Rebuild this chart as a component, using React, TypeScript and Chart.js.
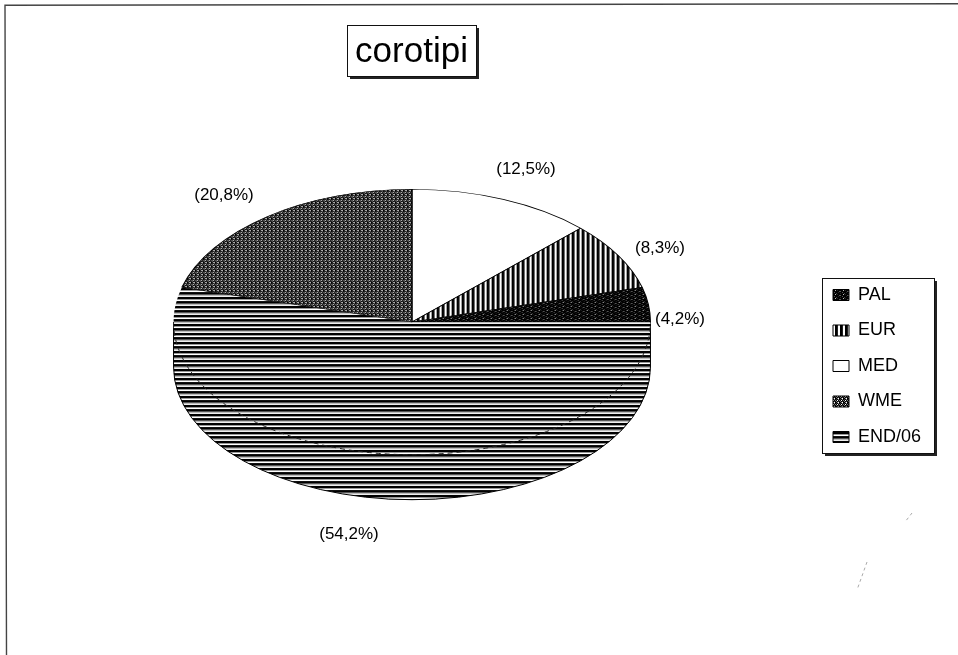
import React, { useEffect, useRef } from "react";
import { Chart, registerables } from "chart.js";

Chart.register(...registerables);

const titleText = "corotipi";
const sliceNames = ["MED", "EUR", "PAL", "END/06", "WME"];
const sliceValues = [12.5, 8.3, 4.2, 54.2, 20.8];
const legendOrder = ["PAL", "EUR", "MED", "WME", "END/06"];

const FONT = '"Liberation Sans", Arial, sans-serif';
const W = 958;
const H = 655;

// pie face geometry on the page
const FACE = { left: 173, right: 651, top: 189, bottom: 455 };
const DEPTH = 45;
const STRETCH = (FACE.right - FACE.left) / (FACE.bottom - FACE.top);
const LABEL_CENTERS: Record<string, [number, number]> = {
  MED: [526, 169],
  EUR: [660, 248],
  PAL: [680, 319],
  "END/06": [349, 534],
  WME: [224, 195],
};

// grey-level tiles (0 = black, f = white) for the scanned hatches
const TILES: Record<string, string[]> = {
  MED: ["f"],
  EUR: ["002ff002ff"],
  PAL: ["00500020", "20004000", "000b0200", "50000005"],
  "END/06": ["0", "0", "9", "f", "1", "0", "5", "b", "e"],
  WME: ["0f07", "7030", "07f0", "3070"],
};

function makePattern(tile: string[], stretch: number): CanvasPattern {
  const c = document.createElement("canvas");
  c.width = tile[0].length;
  c.height = tile.length;
  const x = c.getContext("2d")!;
  tile.forEach((row, j) => {
    [...row].forEach((ch, i) => {
      const v = parseInt(ch, 16) * 17;
      x.fillStyle = `rgb(${v},${v},${v})`;
      x.fillRect(i, j, 1, 1);
    });
  });
  const p = x.createPattern(c, "repeat")!;
  p.setTransform(new DOMMatrix().scale(stretch, 1));
  return p;
}

const percentText = (v: number) => `(${v.toFixed(1).replace(".", ",")}%)`;

function boxWithShadow(
  ctx: CanvasRenderingContext2D,
  x: number,
  y: number,
  w: number,
  h: number
) {
  ctx.fillStyle = "#222";
  ctx.fillRect(x + 3, y + 3, w, h);
  ctx.fillStyle = "#fff";
  ctx.fillRect(x, y, w, h);
  ctx.strokeStyle = "#111";
  ctx.lineWidth = 1;
  ctx.strokeRect(x + 0.5, y + 0.5, w, h);
}

const pagePlugin = {
  id: "pagePlugin",
  afterLayout(chart: any) {
    chart.chartArea = {
      left: FACE.left,
      right: FACE.right,
      top: FACE.top,
      bottom: FACE.bottom,
      width: FACE.right - FACE.left,
      height: FACE.bottom - FACE.top,
    };
  },
  beforeDraw(chart: any) {
    const { ctx } = chart;
    ctx.save();
    ctx.fillStyle = "#fff";
    ctx.fillRect(0, 0, W, H);
    // scanned page frame
    ctx.strokeStyle = "#444";
    ctx.lineWidth = 1.4;
    ctx.beginPath();
    ctx.moveTo(W, 3.8);
    ctx.lineTo(5, 5.2);
    ctx.lineTo(6.5, H);
    ctx.stroke();
    // scratches
    ctx.strokeStyle = "#aaa";
    ctx.lineWidth = 1;
    ctx.setLineDash([3, 3]);
    ctx.beginPath();
    ctx.moveTo(912, 513);
    ctx.lineTo(905, 522);
    ctx.moveTo(867, 562);
    ctx.lineTo(857, 590);
    ctx.stroke();
    ctx.setLineDash([]);
    boxWithShadow(ctx, 347, 25, 129, 51);
    boxWithShadow(ctx, 822, 278, 112, 175);
    ctx.restore();

    const t = chart.titleBlock;
    t.left = 347;
    t.right = 476;
    t.top = 31;
    t.bottom = 74;
    const l = chart.legend;
    const lw = l.right - l.left;
    const lh = l.bottom - l.top;
    l.left = 815.5;
    l.right = l.left + lw;
    l.top = 268.5;
    l.bottom = l.top + lh;
  },
  beforeDatasetsDraw(chart: any) {
    const { ctx } = chart;
    const meta = chart.getDatasetMeta(0);
    const arc = meta.data[sliceNames.indexOf("END/06")];
    const { x, y, outerRadius: r } = arc.getProps(["x", "y", "outerRadius"], true);
    const rx = r * STRETCH;
    ctx.save();
    ctx.translate(x, y);
    ctx.scale(STRETCH, 1);
    ctx.translate(-x, -y);
    ctx.beginPath();
    ctx.moveTo(x - r, y);
    ctx.lineTo(x - r, y + DEPTH);
    ctx.arc(x, y + DEPTH, r, Math.PI, 0, true);
    ctx.lineTo(x + r, y);
    ctx.closePath();
    ctx.fillStyle = arc.options.backgroundColor;
    ctx.fill();
    ctx.restore();
    ctx.save();
    ctx.strokeStyle = "#000";
    ctx.lineWidth = 1;
    ctx.beginPath();
    ctx.moveTo(x - rx, y);
    ctx.lineTo(x - rx, y + DEPTH);
    ctx.ellipse(x, y + DEPTH, rx, r, 0, Math.PI, 0, true);
    ctx.lineTo(x + rx, y);
    ctx.stroke();
    ctx.restore();
  },
  beforeDatasetDraw(chart: any) {
    const { ctx, chartArea: a } = chart;
    const cx = (a.left + a.right) / 2;
    ctx.save();
    ctx.translate(cx, 0);
    ctx.scale(STRETCH, 1);
    ctx.translate(-cx, 0);
  },
  afterDatasetDraw(chart: any) {
    chart.ctx.restore();
  },
  afterDatasetsDraw(chart: any) {
    const { ctx } = chart;
    const meta = chart.getDatasetMeta(0);
    const arc = meta.data[sliceNames.indexOf("END/06")];
    const { x, y, outerRadius: r } = arc.getProps(["x", "y", "outerRadius"], true);
    const rx = r * STRETCH;
    ctx.save();
    // hidden rim of the face, dashed in the original
    ctx.strokeStyle = "#222";
    ctx.lineWidth = 1;
    ctx.setLineDash([5, 4]);
    ctx.beginPath();
    ctx.ellipse(x, y, rx, r, 0, Math.PI, 0, true);
    ctx.stroke();
    ctx.setLineDash([]);
    // value labels
    ctx.fillStyle = "#000";
    ctx.font = `17px ${FONT}`;
    ctx.textAlign = "center";
    ctx.textBaseline = "middle";
    sliceNames.forEach((name, i) => {
      const [lx, ly] = LABEL_CENTERS[name];
      ctx.fillText(percentText(sliceValues[i]), lx, ly);
    });
    ctx.restore();
  },
};

export default function App() {
  const ref = useRef<HTMLCanvasElement>(null);
  useEffect(() => {
    document.body.style.margin = "0";
    const faceColors = sliceNames.map((n) => makePattern(TILES[n], 1 / STRETCH));
    const swatchColors = sliceNames.map((n) => makePattern(TILES[n], 1));
    const chart = new Chart(ref.current!, {
      type: "pie",
      data: {
        labels: sliceNames,
        datasets: [
          {
            data: sliceValues,
            backgroundColor: faceColors as any,
            borderColor: sliceNames.map((n) => (n === "END/06" ? "rgba(0,0,0,0)" : "#000")),
            borderWidth: 0.6,
            clip: false as any,
          },
        ],
      },
      options: {
        responsive: false,
        animation: false,
        layout: { padding: 0 },
        plugins: {
          tooltip: { enabled: false },
          title: {
            display: true,
            text: titleText,
            color: "#000",
            padding: 0,
            font: { family: FONT, size: 35, weight: "normal" },
          },
          legend: {
            display: true,
            position: "right",
            align: "start",
            labels: {
              color: "#000",
              font: { family: FONT, size: 18 },
              boxWidth: 16,
              boxHeight: 11,
              padding: 17.5,
              generateLabels: (c: any) => {
                const items = (Chart as any).overrides.pie.plugins.legend.labels.generateLabels(c);
                return items
                  .map((it: any, i: number) => ({
                    ...it,
                    fillStyle: swatchColors[i],
                    strokeStyle: "#000",
                    lineWidth: 1,
                  }))
                  .sort(
                    (a: any, b: any) => legendOrder.indexOf(a.text) - legendOrder.indexOf(b.text)
                  );
              },
            },
          },
        },
      },
      plugins: [pagePlugin as any],
    });
    return () => chart.destroy();
  }, []);
  return (
    <canvas
      ref={ref}
      width={W}
      height={H}
      style={{ display: "block", width: W, height: H }}
    />
  );
}
